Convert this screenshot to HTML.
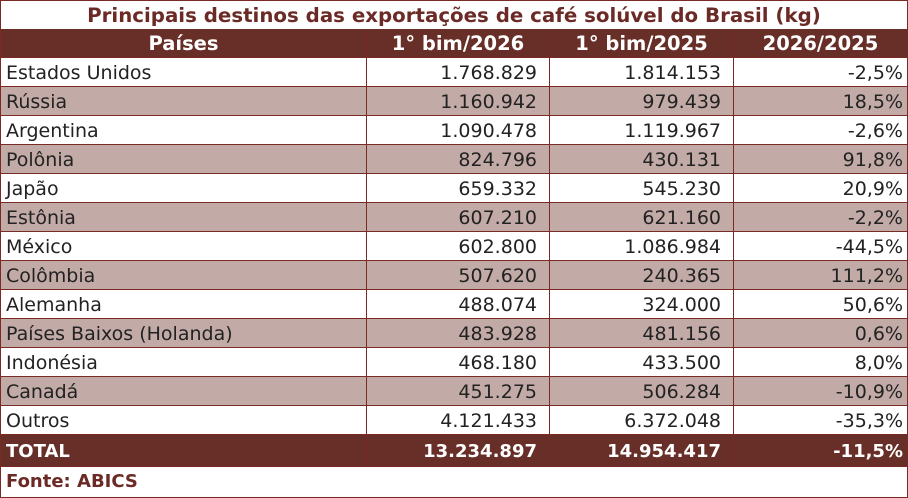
<!DOCTYPE html>
<html><head><meta charset="utf-8"><style>
*{margin:0;padding:0;box-sizing:border-box}
body{width:908px;height:498px;background:#fff;font-family:"DejaVu Sans","Liberation Sans",sans-serif;position:relative;overflow:hidden}
.r{position:absolute;left:0;width:908px;height:29px;border-bottom:1px solid #7a2a25}
.c{position:absolute;top:0;height:100%;line-height:31px;font-size:19px;color:#222;white-space:nowrap;border-left:1px solid #7a2a25}
.c1{left:0;width:366px;padding-left:5px}
.c2{left:366px;width:183px;text-align:right;padding-right:12px}
.c3{left:549px;width:184px;text-align:right;padding-right:12px}
.c4{left:733px;width:175px;text-align:right;padding-right:4px;border-right:1px solid #7a2a25}
.s{background:#c2aaa6}
.d{background:#682f28}
.d .c{color:#fff;font-weight:bold;font-size:18px}
.h .c{text-align:center;padding:0;font-size:19.5px;line-height:30px}
</style></head><body>
<div style="position:absolute;left:0;top:0;width:908px;height:30px;border:1px solid #7a2a25;border-bottom:none;text-align:center;font-weight:bold;font-size:19.8px;line-height:30px;color:#6b2a26">Principais destinos das exportações de café solúvel do Brasil (kg)</div>
<div class="r d h" style="top:29px"><div class="c c1">Países</div><div class="c c2">1° bim/2026</div><div class="c c3">1° bim/2025</div><div class="c c4">2026/2025</div></div>
<div class="r" style="top:58px"><div class="c c1">Estados Unidos</div><div class="c c2">1.768.829</div><div class="c c3">1.814.153</div><div class="c c4">-2,5%</div></div>
<div class="r s" style="top:87px"><div class="c c1">Rússia</div><div class="c c2">1.160.942</div><div class="c c3">979.439</div><div class="c c4">18,5%</div></div>
<div class="r" style="top:116px"><div class="c c1">Argentina</div><div class="c c2">1.090.478</div><div class="c c3">1.119.967</div><div class="c c4">-2,6%</div></div>
<div class="r s" style="top:145px"><div class="c c1">Polônia</div><div class="c c2">824.796</div><div class="c c3">430.131</div><div class="c c4">91,8%</div></div>
<div class="r" style="top:174px"><div class="c c1">Japão</div><div class="c c2">659.332</div><div class="c c3">545.230</div><div class="c c4">20,9%</div></div>
<div class="r s" style="top:203px"><div class="c c1">Estônia</div><div class="c c2">607.210</div><div class="c c3">621.160</div><div class="c c4">-2,2%</div></div>
<div class="r" style="top:232px"><div class="c c1">México</div><div class="c c2">602.800</div><div class="c c3">1.086.984</div><div class="c c4">-44,5%</div></div>
<div class="r s" style="top:261px"><div class="c c1">Colômbia</div><div class="c c2">507.620</div><div class="c c3">240.365</div><div class="c c4">111,2%</div></div>
<div class="r" style="top:290px"><div class="c c1">Alemanha</div><div class="c c2">488.074</div><div class="c c3">324.000</div><div class="c c4">50,6%</div></div>
<div class="r s" style="top:319px"><div class="c c1">Países Baixos (Holanda)</div><div class="c c2">483.928</div><div class="c c3">481.156</div><div class="c c4">0,6%</div></div>
<div class="r" style="top:348px"><div class="c c1">Indonésia</div><div class="c c2">468.180</div><div class="c c3">433.500</div><div class="c c4">8,0%</div></div>
<div class="r s" style="top:377px"><div class="c c1">Canadá</div><div class="c c2">451.275</div><div class="c c3">506.284</div><div class="c c4">-10,9%</div></div>
<div class="r" style="top:406px"><div class="c c1">Outros</div><div class="c c2">4.121.433</div><div class="c c3">6.372.048</div><div class="c c4">-35,3%</div></div>
<div class="r d" style="top:435px;height:32px"><div class="c c1" style="line-height:33px">TOTAL</div><div class="c c2" style="line-height:33px">13.234.897</div><div class="c c3" style="line-height:33px">14.954.417</div><div class="c c4" style="line-height:33px">-11,5%</div></div>
<div style="position:absolute;left:0;top:467px;width:908px;height:31px;border:1px solid #7a2a25;border-top:none;padding-left:5px;line-height:30px;font-size:18px;font-weight:bold;color:#6b2a26">Fonte: ABICS</div>
</body></html>
